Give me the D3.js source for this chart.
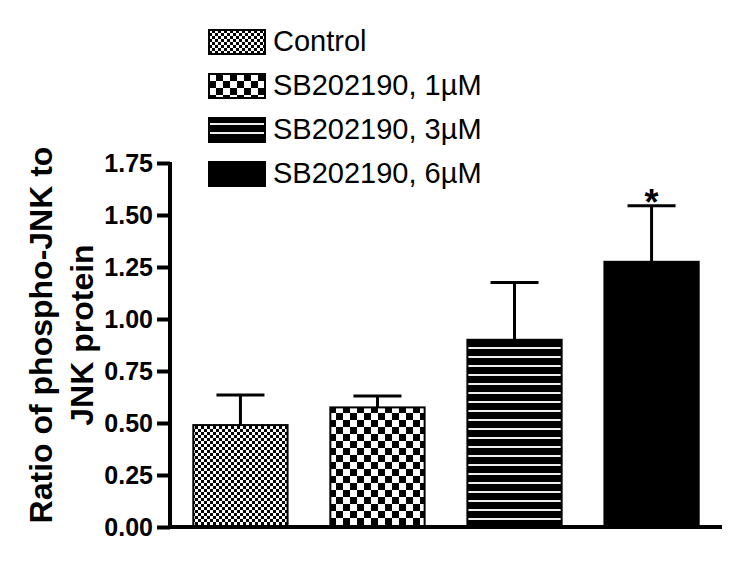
<!DOCTYPE html>
<html>
<head>
<meta charset="utf-8">
<script src="https://cdn.jsdelivr.net/npm/d3@7"></script>
<style>
  body { margin: 0; background: #fff; }
  svg { font-family: "Liberation Sans", Arial, sans-serif; }
</style>
</head>
<body>
<div id="container"></div>
<script>
const groups = ['Control', 'SB202190, 1µM', 'SB202190, 3µM', 'SB202190, 6µM'];
const means = [0.49, 0.575, 0.90, 1.275];
const errors = [0.145, 0.055, 0.275, 0.27];
const stars = ['', '', '', '*'];
const yTicks = [0, 0.25, 0.5, 0.75, 1.0, 1.25, 1.5, 1.75];
const patterns = ['fine', 'check', 'stripe', 'solid'];

const width = 750, height = 570;
const margin = { top: 163, bottom: 43, left: 170, right: 28 };

const svg = d3.select('#container').append('svg')
    .attr('width', width).attr('height', height);

// fill patterns
const defs = svg.append('defs');
const fine = defs.append('pattern').attr('id', 'fine')
    .attr('patternUnits', 'userSpaceOnUse').attr('width', 6).attr('height', 6);
fine.append('rect').attr('width', 6).attr('height', 6).attr('fill', '#000');
fine.append('rect').attr('width', 3).attr('height', 3).attr('fill', '#fff');
fine.append('rect').attr('x', 3).attr('y', 3).attr('width', 3).attr('height', 3).attr('fill', '#fff');

const check = defs.append('pattern').attr('id', 'check')
    .attr('patternUnits', 'userSpaceOnUse').attr('width', 14).attr('height', 14);
check.append('rect').attr('width', 14).attr('height', 14).attr('fill', '#000');
check.append('rect').attr('width', 7).attr('height', 7).attr('fill', '#fff');
check.append('rect').attr('x', 7).attr('y', 7).attr('width', 7).attr('height', 7).attr('fill', '#fff');

const stripe = defs.append('pattern').attr('id', 'stripe')
    .attr('patternUnits', 'userSpaceOnUse').attr('width', 10).attr('height', 9);
stripe.append('rect').attr('width', 10).attr('height', 9).attr('fill', '#000');
stripe.append('rect').attr('y', 5).attr('width', 10).attr('height', 2).attr('fill', '#eee');

const fillFor = p => p === 'solid' ? '#000' : `url(#${p})`;

const x = d3.scaleBand()
    .domain(groups)
    .range([margin.left, width - margin.right])
    .paddingInner(0.312)
    .paddingOuter(0.17);

const y = d3.scaleLinear()
    .domain([0, 1.75])
    .range([height - margin.bottom, margin.top]);

// bars
svg.append('g').selectAll('rect')
    .data(groups)
    .join('rect')
      .attr('x', d => x(d))
      .attr('y', (d, i) => y(means[i]))
      .attr('width', x.bandwidth())
      .attr('height', (d, i) => y(0) - y(means[i]))
      .attr('fill', (d, i) => fillFor(patterns[i]))
      .attr('stroke', '#000')
      .attr('stroke-width', 2);

// error bars (upper only)
const eb = svg.append('g').attr('stroke', '#000').attr('stroke-width', 3);
groups.forEach((g, i) => {
  const cx = x(g) + x.bandwidth() / 2;
  eb.append('line')
    .attr('x1', cx).attr('x2', cx)
    .attr('y1', y(means[i])).attr('y2', y(means[i] + errors[i]));
  eb.append('line')
    .attr('x1', cx - 24).attr('x2', cx + 24)
    .attr('y1', y(means[i] + errors[i])).attr('y2', y(means[i] + errors[i]));
  if (stars[i]) {
    svg.append('text')
      .attr('x', cx).attr('y', y(means[i] + errors[i]) + 9)
      .attr('text-anchor', 'middle')
      .attr('font-size', 36).attr('font-weight', 'bold')
      .text(stars[i]);
  }
});

// y axis
const yAxis = svg.append('g')
    .attr('transform', `translate(${margin.left},0)`)
    .call(d3.axisLeft(y).tickValues(yTicks).tickFormat(d3.format('.2f')).tickSize(13).tickPadding(4));
yAxis.select('.domain').attr('stroke-width', 4).attr('d', `M0,${y(1.75) - 1}V${y(0) + 2}`);
yAxis.selectAll('.tick line').attr('stroke-width', 4);
yAxis.selectAll('.tick text')
    .attr('font-size', 25).attr('font-weight', 'bold')
    .attr('font-family', '"Liberation Sans", Arial, sans-serif')
    .attr('fill', '#000');

// baseline
svg.append('line')
    .attr('x1', margin.left).attr('x2', 722)
    .attr('y1', y(0)).attr('y2', y(0))
    .attr('stroke', '#000').attr('stroke-width', 4);

// y label
const yl = svg.append('text')
    .attr('transform', 'translate(0,335) rotate(-90)')
    .attr('text-anchor', 'middle')
    .attr('font-size', 32).attr('font-weight', 'bold');
yl.append('tspan').attr('x', 0).attr('y', 52).text('Ratio of phospho-JNK to');
yl.append('tspan').attr('x', 0).attr('y', 93).text('JNK protein');

// legend
const legend = svg.append('g').attr('transform', 'translate(209,30)');
const rows = legend.selectAll('g')
    .data(groups)
    .join('g')
      .attr('transform', (d, i) => `translate(0,${i * 44})`);
rows.append('rect')
    .attr('width', 56).attr('height', 24)
    .attr('fill', (d, i) => fillFor(patterns[i]))
    .attr('stroke', '#000').attr('stroke-width', 2);
rows.append('text')
    .attr('x', 64).attr('y', 21)
    .attr('font-size', 29)
    .text(d => d);
</script>
</body>
</html>
